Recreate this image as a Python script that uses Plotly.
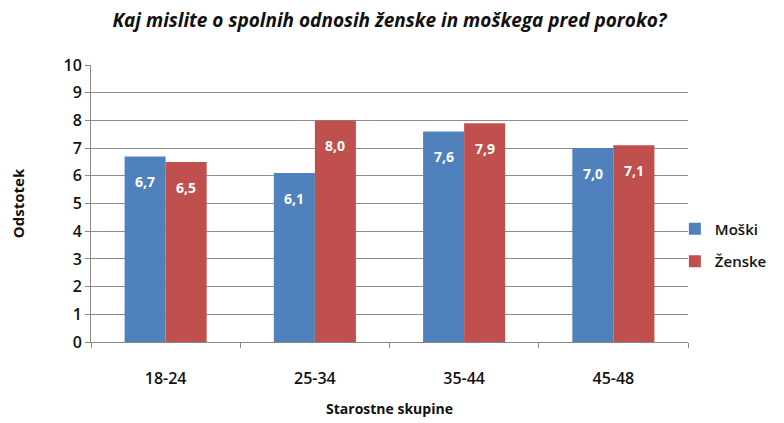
import plotly.graph_objects as go

categories = ["18-24", "25-34", "35-44", "45-48"]
moski = [6.7, 6.1, 7.6, 7.0]
zenske = [6.5, 8.0, 7.9, 7.1]
labels_moski = ["6,7", "6,1", "7,6", "7,0"]
labels_zenske = ["6,5", "8,0", "7,9", "7,1"]
y_ticks = list(range(0, 11))

BLUE = "#4F81BD"
RED = "#C0504D"
FONT = "'Open Sans', sans-serif"
TXT = "#111111"
AX = "#888888"

xpos = list(range(len(categories)))

fig = go.Figure()
fig.add_trace(go.Bar(x=xpos, y=moski, name="Moški", legendgroup="m",
                     marker=dict(color=BLUE, line=dict(width=0))))
fig.add_trace(go.Bar(x=xpos, y=zenske, name="Ženske", legendgroup="z",
                     marker=dict(color=RED, line=dict(width=0))))

BARGAP = 0.45
half = (1 - BARGAP) / 4
annotations = []
for i in xpos:
    for val, lab, off in ((moski[i], labels_moski[i], -half), (zenske[i], labels_zenske[i], half)):
        annotations.append(dict(x=i + off, y=val, xref="x", yref="y", text="<b>%s</b>" % lab,
                                showarrow=False, yanchor="top", yshift=-14,
                                font=dict(color="white", size=14, family=FONT)))

fig.update_layout(
    width=776, height=415,
    paper_bgcolor="white", plot_bgcolor="white",
    margin=dict(l=83, r=94, t=57, b=81),
    barmode="group", bargap=BARGAP, bargroupgap=0,
    title=dict(text="<b><i>Kaj mislite o spolnih odnosih ženske in moškega pred poroko?</i></b>",
               x=0.5, xref="paper", xanchor="center", y=0.971, yanchor="middle",
               font=dict(family=FONT, size=19, color=TXT)),
    font=dict(family=FONT, color=TXT),
    xaxis=dict(range=[-0.5, len(categories) - 0.5], tickvals=xpos, ticktext=categories,
               showline=True, linecolor=AX, linewidth=1,
               ticks="outside", ticklen=22, tickcolor="rgba(0,0,0,0)",
               minor=dict(tick0=0.5, dtick=1, ticks="outside", ticklen=5, tickcolor=AX, showgrid=False),
               tickfont=dict(size=16, family=FONT, color=TXT, weight=600),
               title=dict(text="<b>Starostne skupine</b>", font=dict(size=14, family=FONT), standoff=15),
               showgrid=False, zeroline=False, automargin=False),
    yaxis=dict(range=[0, 10], tickvals=y_ticks, showline=True, linecolor=AX, linewidth=1,
               ticks="outside", ticklen=5, tickcolor=AX, gridcolor="#8c8c8c", gridwidth=1,
               tickfont=dict(size=16, family=FONT, color=TXT, weight=600),
               title=dict(text="<b>Odstotek</b>", font=dict(size=15, family=FONT), standoff=36),
               zeroline=False, automargin=False),
    legend=dict(xref="paper", yref="paper", x=0.978, y=0.35, yanchor="middle", xanchor="left",
                font=dict(size=15, family=FONT, color=TXT, weight=600),
                tracegroupgap=10, itemwidth=30, bgcolor="rgba(0,0,0,0)"),
    annotations=annotations,
)
fig.write_html("out.html")
